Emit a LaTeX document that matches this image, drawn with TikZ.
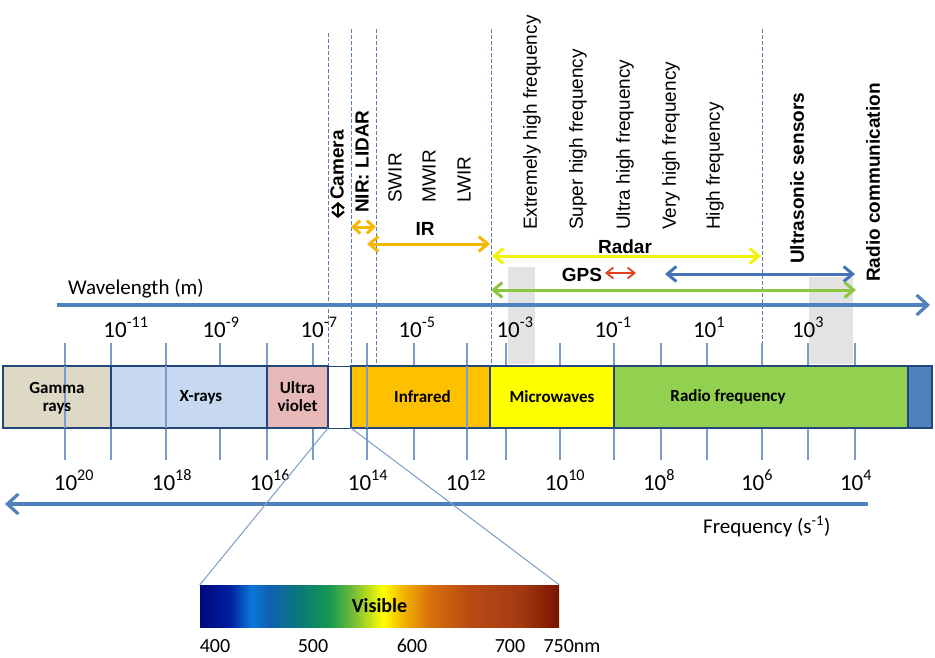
\documentclass[tikz,border=0pt]{standalone}
\usepackage{fontspec}
\setmainfont{Carlito}
\newfontfamily\arialfont{Liberation Sans}
\usetikzlibrary{positioning, arrows.meta}

\definecolor{axisblue}{HTML}{4F81BD}
\definecolor{tickblue}{HTML}{7B9CC8}
\definecolor{dashblue}{HTML}{5A7FAF}
\definecolor{bandedge}{HTML}{24477A}
\definecolor{gammafill}{HTML}{DDD9C4}
\definecolor{xrayfill}{HTML}{C6D9F1}
\definecolor{uvfill}{HTML}{E6B9B8}
\definecolor{irfill}{HTML}{FFC000}
\definecolor{mwfill}{HTML}{FFFF00}
\definecolor{rffill}{HTML}{92D050}
\definecolor{irarrow}{HTML}{F5B800}
\definecolor{radaryellow}{HTML}{F2F20A}
\definecolor{gpsred}{HTML}{E2401E}
\definecolor{commblue}{HTML}{4474B6}
\definecolor{gpsgreen}{HTML}{8CC640}
\definecolor{shadegrey}{HTML}{E3E3E3}
% colours of the visible strip
\definecolor{visA}{HTML}{000A7E}
\definecolor{visB}{HTML}{0020A0}
\definecolor{visC}{HTML}{0A78D8}
\definecolor{visD}{HTML}{1060B0}
\definecolor{visE}{HTML}{0A7A78}
\definecolor{visF}{HTML}{159A50}
\definecolor{visG}{HTML}{7DC035}
\definecolor{visH}{HTML}{FFFF00}
\definecolor{visI}{HTML}{F5BC00}
\definecolor{visJ}{HTML}{D8700A}
\definecolor{visK}{HTML}{B84A12}
\definecolor{visL}{HTML}{A43A12}
\definecolor{visM}{HTML}{7A1400}
\pgfdeclarehorizontalshading{visible}{100bp}{color(0bp)=(visA); color(25bp)=(visA);
  color(29.2bp)=(visB); color(32.2bp)=(visC); color(34.7bp)=(visD); color(38.9bp)=(visE);
  color(43.1bp)=(visF); color(46.6bp)=(visG); color(50.5bp)=(visH); color(52.9bp)=(visI);
  color(57bp)=(visJ); color(62.6bp)=(visK); color(69.6bp)=(visL); color(75bp)=(visM);
  color(100bp)=(visM)}

\tikzset{
x=1pt, y=-1pt, % one unit is one pixel of the figure, y grows downwards
band/.style={draw=bandedge, line width=2.2pt, minimum height=62pt, inner sep=0pt, outer sep=0pt, anchor=north west},
boxtext/.style={font=\fontsize{17}{18}\selectfont\bfseries, align=center, inner sep=0pt},
tickline/.style={draw=tickblue, line width=1.3pt},
vdash/.style={draw=dashblue, line width=1pt, dash pattern=on 3.5pt off 2.5pt},
powerlabel/.style={font=\fontsize{23}{25}\selectfont, anchor=base, inner sep=0pt},
vlabel/.style={rotate=90, anchor=west, inner sep=0pt, font=\arialfont\fontsize{19}{20}\selectfont},
vbold/.style={vlabel, font=\arialfont\bfseries\fontsize{19}{20}\selectfont},
hbold/.style={inner sep=0pt, font=\arialfont\bfseries\fontsize{19}{20}\selectfont},
spanarrow/.style={<->, >={Straight Barb[length=9pt, width=15pt]}, line width=3pt},
axisarrow/.style={->, >={Straight Barb[length=11pt, width=20pt]}, draw=axisblue, line width=3.2pt},
zoomline/.style={draw=tickblue, line width=1pt},
nmlabel/.style={font=\fontsize{20}{22}\selectfont, anchor=base, inner sep=0pt},
axislabel/.style={font=\fontsize{21}{23}\selectfont, anchor=base west, inner sep=0pt},
}

\begin{document}
\begin{tikzpicture}
  \useasboundingbox (0,0) rectangle (935,657);

  % grey bands behind the ultrasonic and radio ranges
  \fill[shadegrey] (508,267) rectangle (535,364);
  \fill[shadegrey] (809,277) rectangle (853,364);

  % dotted guides
  \foreach \x/\top in {328/33, 351/29, 376/29, 491/29, 762/29}
    \draw[vdash] (\x,\top) -- (\x,366);

  % scale ticks
  \foreach \x in {65,111,166,220,267,313,367,414,467,506,560,614,661,707,762,808,855} {
    \draw[tickline] (\x,343) -- (\x,366);
    \draw[tickline] (\x,428) -- (\x,460);
  }

  % the spectrum band
  \node[band, line width=1pt, fill=white, minimum width=23pt] (gap) at (328,366) {};
  \node[band, fill=gammafill, minimum width=108pt] (gamma) at (3,366) {};
  \node[band, fill=xrayfill, minimum width=156pt, right=0pt of gamma] (xray) {};
  \node[band, fill=uvfill, minimum width=61pt, right=0pt of xray] (uv) {};
  \node[band, fill=irfill, minimum width=139pt] (ir) at (351,366) {};
  \node[band, fill=mwfill, minimum width=124pt, right=0pt of ir] (mw) {};
  \node[band, fill=rffill, minimum width=294pt, right=0pt of mw] (rf) {};
  \node[band, fill=axisblue, minimum width=24pt, right=0pt of rf] (lw) {};

  \foreach \x in {65,166,367,467}
    \draw[tickline] (\x,366) -- (\x,428);

  \node[boxtext] at ([yshift=-1pt]gamma.center) {Gamma\\rays};
  \node[boxtext] at ([xshift=12pt]xray.center) {X-rays};
  \node[boxtext] at (uv.center) {Ultra\\violet};
  \node[boxtext] at ([xshift=2pt]ir.center) {Infrared};
  \node[boxtext] at (mw.center) {Microwaves};
  \node[boxtext] at ([xshift=-33pt]rf.center) {Radio frequency};

  % wavelength axis
  \coordinate (wl0) at (57,305);
  \coordinate (wl1) at (930,305);
  \draw[axisarrow] (wl0) -- (wl1);
  \node[axislabel] (wllabel) at (68,294) {Wavelength (m)};
  \foreach \x/\e in {126/-11, 221/-9, 319/-7, 417/-5, 515/-3, 613/-1, 709/1, 808/3}
    \node[powerlabel] at (\x,337) {10\textsuperscript{\e}};

  % frequency axis
  \coordinate (fr0) at (868,504);
  \coordinate (fr1) at (5,504);
  \draw[axisarrow] (fr0) -- (fr1);
  \node[axislabel] (frlabel) at (703,533) {Frequency (s\textsuperscript{-1})};
  \foreach \x/\e in {74/20, 172/18, 270/16, 368/14, 466/12, 565/10, 659/8, 757/6, 856/4}
    \node[powerlabel] at (\x,490) {10\textsuperscript{\e}};

  % sensor and band names
  \node[vbold] (camera) at (337,200) {Camera};
  \node[vbold] (lidar) at (362,213) {NIR: LIDAR};
  \node[vlabel] (swir) at (395,203) {SWIR};
  \node[vlabel] (mwir) at (429,203) {MWIR};
  \node[vlabel] (lwir) at (464,203) {LWIR};
  \node[vlabel] (ehf) at (532,230) {Extremely high frequency};
  \node[vlabel] (shf) at (578,230) {Super high frequency};
  \node[vlabel] (uhf) at (625,230) {Ultra high frequency};
  \node[vlabel] (vhf) at (671,230) {Very high frequency};
  \node[vlabel] (hf) at (715,230) {High frequency};
  \node[vbold] (sonic) at (797,264) {Ultrasonic sensors};
  \node[vbold] (radio) at (873,282) {Radio communication};
  \node[hbold] (irlabel) at (425,229) {IR};
  \node[hbold] (radar) at (625,247) {Radar};
  \node[hbold] (gps) at (582,275) {GPS};

  % ranges
  \coordinate (cam0) at (338,202);
  \coordinate (cam1) at (338,218);
  \draw[<->, >={Straight Barb[length=5pt, width=12pt]}, line width=2.2pt] (cam0) -- (cam1);
  \coordinate (nir0) at (351,227);
  \coordinate (nir1) at (376,227);
  \draw[spanarrow, irarrow, >={Straight Barb[length=7pt, width=13pt]}] (nir0) -- (nir1);
  \coordinate (ir0) at (367,244);
  \coordinate (ir1) at (490,244);
  \draw[spanarrow, irarrow] (ir0) -- (ir1);
  \coordinate (rad0) at (492,256);
  \coordinate (rad1) at (761,256);
  \draw[spanarrow, radaryellow] (rad0) -- (rad1);
  \coordinate (gps0) at (605,273);
  \coordinate (gps1) at (636,273);
  \draw[spanarrow, gpsred, line width=1.8pt, >={Straight Barb[length=7pt, width=11pt]}] (gps0) -- (gps1);
  \coordinate (com0) at (665,274);
  \coordinate (com1) at (855,274);
  \draw[spanarrow, commblue] (com0) -- (com1);
  \coordinate (grn0) at (491,290);
  \coordinate (grn1) at (856,290);
  \draw[spanarrow, gpsgreen] (grn0) -- (grn1);

  % visible light blown up
  \node[shade, shading=visible, minimum width=359pt, minimum height=42pt, inner sep=0pt,
        font=\fontsize{20}{22}\selectfont\bfseries] (vis) at (379.5,606) {Visible};
  \draw[zoomline] (gap.south west) -- (vis.north west);
  \draw[zoomline] (gap.south east) -- (vis.north east);
  \foreach \x/\t in {215/400, 313/500, 412/600, 510/700, 572/750nm}
    \node[nmlabel] at (\x,652) {\t};
\end{tikzpicture}
\end{document}
